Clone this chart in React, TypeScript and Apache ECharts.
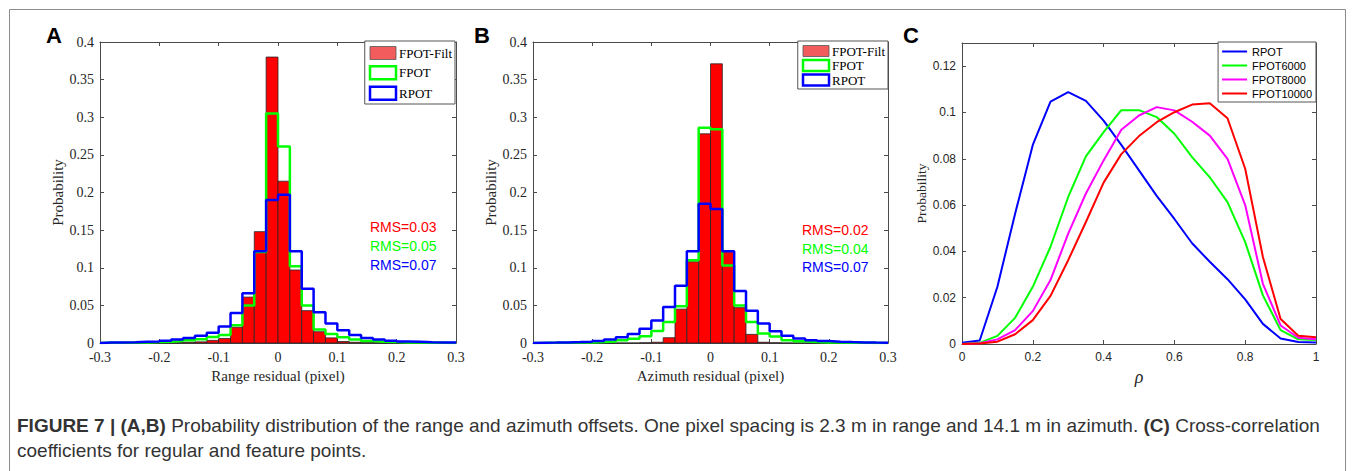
import React, { useEffect, useRef } from "react";
import * as echarts from "echarts";

// ---------- data ----------
const BIN_START = -0.3;
const BIN_WIDTH = 0.02;

// Panel A: range residual histograms (30 bins of 0.02 from -0.3 to 0.3)
const rangeFilt = [0, 0, 0, 0, 0, 0.0003, 0.0005, 0.001, 0.0015, 0.0035, 0.006, 0.021, 0.061, 0.148, 0.38, 0.215, 0.097, 0.043, 0.015, 0.0068, 0.002, 0.001, 0.0005, 0.0003, 0.0002, 0, 0, 0, 0, 0];
const rangeFpot = [0.0002, 0.0003, 0.0005, 0.0008, 0.0012, 0.0018, 0.0025, 0.0035, 0.005, 0.008, 0.0105, 0.0235, 0.05, 0.121, 0.305, 0.261, 0.102, 0.05, 0.018, 0.012, 0.0075, 0.0045, 0.0027, 0.0018, 0.0012, 0.0008, 0.0005, 0.0003, 0.0002, 0.0001];
const rangeRpot = [0.0005, 0.0007, 0.001, 0.0015, 0.002, 0.003, 0.0045, 0.0065, 0.0095, 0.0137, 0.022, 0.04, 0.066, 0.122, 0.19, 0.197, 0.122, 0.072, 0.041, 0.026, 0.017, 0.0105, 0.0068, 0.0045, 0.003, 0.002, 0.0015, 0.001, 0.0007, 0.0005];

// Panel B: azimuth residual histograms
const azFilt = [0, 0, 0, 0, 0, 0, 0, 0, 0, 0.0003, 0.001, 0.007, 0.045, 0.108, 0.278, 0.371, 0.122, 0.047, 0.0115, 0.001, 0.0003, 0, 0, 0, 0, 0, 0, 0, 0, 0];
const azFpot = [0.0001, 0.0002, 0.0003, 0.0005, 0.0008, 0.0013, 0.002, 0.0035, 0.0055, 0.009, 0.016, 0.028, 0.049, 0.11, 0.286, 0.284, 0.103, 0.05, 0.028, 0.0125, 0.0085, 0.0037, 0.0022, 0.0013, 0.0008, 0.0005, 0.0003, 0.0002, 0.0001, 0.0001];
const azRpot = [0.0003, 0.0005, 0.0008, 0.0012, 0.0018, 0.0028, 0.0045, 0.0075, 0.012, 0.019, 0.03, 0.048, 0.076, 0.122, 0.185, 0.178, 0.122, 0.069, 0.043, 0.026, 0.0155, 0.0095, 0.006, 0.0038, 0.0025, 0.0017, 0.0012, 0.0008, 0.0005, 0.0003];

// Panel C: cross-correlation coefficient distributions
const rho = [0, 0.05, 0.1, 0.15, 0.2, 0.25, 0.3, 0.35, 0.4, 0.45, 0.5, 0.55, 0.6, 0.65, 0.7, 0.75, 0.8, 0.85, 0.9, 0.95, 1];
const cRpot = [0.0005, 0.0015, 0.0247, 0.0563, 0.086, 0.1047, 0.1088, 0.105, 0.0965, 0.086, 0.075, 0.064, 0.054, 0.0435, 0.0355, 0.028, 0.0193, 0.0087, 0.0024, 0.0009, 0.0006];
const cF6000 = [0, 0.0005, 0.0035, 0.0113, 0.0247, 0.042, 0.0635, 0.081, 0.0915, 0.101, 0.101, 0.098, 0.0908, 0.0807, 0.072, 0.0613, 0.044, 0.021, 0.006, 0.002, 0.0017];
const cF8000 = [0, 0.0003, 0.002, 0.006, 0.0142, 0.0276, 0.0477, 0.065, 0.0793, 0.0925, 0.0987, 0.1023, 0.1009, 0.096, 0.09, 0.08, 0.06, 0.026, 0.008, 0.0027, 0.002];
const cF10000 = [0, 0.0002, 0.001, 0.0042, 0.0103, 0.0208, 0.0362, 0.0527, 0.0697, 0.082, 0.0898, 0.0958, 0.1001, 0.1034, 0.104, 0.0975, 0.0757, 0.0376, 0.0108, 0.0036, 0.0029];

const rmsA = ["RMS=0.03", "RMS=0.05", "RMS=0.07"];
const rmsB = ["RMS=0.02", "RMS=0.04", "RMS=0.07"];
const cYTicks = [0, 0.02, 0.04, 0.06, 0.08, 0.1, 0.12];

// ---------- helpers ----------
const RED = "#ff0000";
const GREEN = "#00ff00";
const BLUE = "#0000ff";
const MAGENTA = "#ff00ff";
const AX = "#4a4a4a";
const TXT = "#262626";
const SERIF = "'Liberation Serif', 'Times New Roman', serif";
const SANS = "'Liberation Sans', Arial, sans-serif";

const edge = (k: number) => Math.round((BIN_START + k * BIN_WIDTH) * 1000) / 1000;
const fmt = (v: number) => String(Math.round(v * 1000) / 1000);

function stairs(values: number[]) {
  const pts: number[][] = [[edge(0), 0]];
  values.forEach((v, i) => pts.push([edge(i), v]));
  pts.push([edge(values.length), values[values.length - 1]]);
  pts.push([edge(values.length), 0]);
  return pts;
}

function barData(values: number[]) {
  return values.map((v, i) => [edge(i), v]);
}

const renderBar = (params: any, api: any) => {
  const x0 = api.value(0);
  const v = api.value(1);
  const p0 = api.coord([x0, 0]);
  const p1 = api.coord([x0 + BIN_WIDTH, v]);
  return {
    type: "rect",
    shape: { x: p0[0], y: p1[1], width: p1[0] - p0[0], height: p0[1] - p1[1] },
    style: { fill: RED, stroke: "#262626", lineWidth: 0.8 },
  };
};

const xAxes: any[] = [];
const yAxes: any[] = [];

function addAxes(g: number, c: any) {
  const line = { show: true, onZero: false, lineStyle: { color: AX, width: 1 } };
  const tick = { show: true, inside: true, length: 4, lineStyle: { color: AX } };
  const cx = { gridIndex: g, type: "value", min: c.xmin, max: c.xmax, interval: c.xint, splitLine: { show: false }, axisLine: line, axisTick: tick };
  const cy = { gridIndex: g, type: "value", min: c.ymin, max: c.ymax, interval: c.yint, splitLine: { show: false }, axisLine: line, axisTick: tick };
  xAxes.push({
    ...cx,
    position: "bottom",
    axisLabel: { margin: 7, color: TXT, fontFamily: c.labelFont, fontSize: c.labelSize, formatter: fmt },
    name: c.xName,
    nameLocation: "middle",
    nameGap: c.xGap,
    nameTextStyle: c.xNameStyle,
  });
  xAxes.push({ ...cx, position: "top", axisLabel: { show: false } });
  yAxes.push({
    ...cy,
    position: "left",
    axisLabel: {
      margin: 6,
      color: TXT,
      fontFamily: c.labelFont,
      fontSize: c.labelSize,
      formatter: c.yFormatter || fmt,
    },
    name: c.yName,
    nameLocation: "middle",
    nameGap: c.yGap,
    nameTextStyle: c.yNameStyle,
  });
  yAxes.push({ ...cy, position: "right", axisLabel: { show: false } });
}

addAxes(0, {
  xmin: -0.3, xmax: 0.3, xint: 0.1, ymin: 0, ymax: 0.4, yint: 0.05,
  labelFont: SERIF, labelSize: 14,
  xName: "Range residual (pixel)", xGap: 20, xNameStyle: { fontFamily: SERIF, fontSize: 15, color: TXT },
  yName: "Probability", yGap: 29, yNameStyle: { fontFamily: SERIF, fontSize: 15, color: TXT },
});
addAxes(1, {
  xmin: -0.3, xmax: 0.3, xint: 0.1, ymin: 0, ymax: 0.4, yint: 0.05,
  labelFont: SERIF, labelSize: 14,
  xName: "Azimuth residual (pixel)", xGap: 20, xNameStyle: { fontFamily: SERIF, fontSize: 15, color: TXT },
  yName: "Probability", yGap: 31, yNameStyle: { fontFamily: SERIF, fontSize: 15, color: TXT },
});
addAxes(2, {
  xmin: 0, xmax: 1, xint: 0.2, ymin: 0, ymax: 0.13, yint: 0.02,
  labelFont: SANS, labelSize: 12,
  yFormatter: (v: number) => (cYTicks.some((t) => Math.abs(t - v) < 1e-6) ? fmt(v) : ""),
  xName: "ρ", xGap: 14, xNameStyle: { fontFamily: SERIF, fontSize: 18, fontStyle: "italic", color: TXT },
  yName: "Probability", yGap: 29, yNameStyle: { fontFamily: SERIF, fontSize: 13.5, color: TXT },
});

function histSeries(g: number, filt: number[], fpot: number[], rpot: number[]) {
  return [
    {
      name: "FPOT-Filt",
      type: "custom",
      xAxisIndex: 2 * g,
      yAxisIndex: 2 * g,
      renderItem: renderBar,
      encode: { x: 0, y: 1 },
      data: barData(filt),
      z: 2,
    },
    {
      name: "FPOT",
      type: "line",
      xAxisIndex: 2 * g,
      yAxisIndex: 2 * g,
      step: "end",
      symbol: "none",
      lineStyle: { color: GREEN, width: 2.5 },
      itemStyle: { color: GREEN },
      data: stairs(fpot),
      z: 3,
    },
    {
      name: "RPOT",
      type: "line",
      xAxisIndex: 2 * g,
      yAxisIndex: 2 * g,
      step: "end",
      symbol: "none",
      lineStyle: { color: BLUE, width: 2.5 },
      itemStyle: { color: BLUE },
      data: stairs(rpot),
      z: 4,
    },
  ];
}

function lineSeries(name: string, color: string, values: number[]) {
  return {
    name,
    type: "line",
    xAxisIndex: 4,
    yAxisIndex: 4,
    symbol: "none",
    lineStyle: { color, width: 2 },
    itemStyle: { color },
    data: rho.map((x, i) => [x, values[i]]),
    z: 3,
  };
}

function histLegend(right: number, top: number, itemHeight: number, itemGap: number, padding: number[]) {
  return {
    orient: "vertical",
    right,
    top,
    selectedMode: false,
    itemWidth: 26,
    itemHeight,
    itemGap,
    padding,
    borderColor: "#555",
    borderWidth: 1,
    backgroundColor: "#fff",
    textStyle: { fontFamily: SERIF, fontSize: 13, color: "#000", lineHeight: 14, padding: [0, 0, 0, -2] },
    data: [
      { name: "FPOT-Filt", icon: "rect", itemStyle: { color: "#f25c5c", borderColor: "#555", borderWidth: 0.8 } },
      { name: "FPOT", icon: "rect", itemStyle: { color: "#fff", borderColor: GREEN, borderWidth: 2.5 } },
      { name: "RPOT", icon: "rect", itemStyle: { color: "#fff", borderColor: BLUE, borderWidth: 2.5 } },
    ],
  };
}

function rmsTexts(x: number, ys: number[], labels: string[]) {
  const colors = [RED, GREEN, BLUE];
  return labels.map((t, i) => ({
    type: "text",
    x,
    y: ys[i],
    style: { text: t, fill: colors[i], font: `14px ${SANS}`, textVerticalAlign: "middle" },
  }));
}

function panelLabel(t: string, x: number) {
  return {
    type: "text",
    x,
    y: 35,
    style: { text: t, fill: "#000", font: `bold 22px ${SANS}`, textVerticalAlign: "middle" },
  };
}

export default function App() {
  const ref = useRef<HTMLDivElement>(null);
  useEffect(() => {
    if (!ref.current) return;
    const chart = echarts.init(ref.current, null, { renderer: "svg" });
    const option: any = {
      animation: false,
      backgroundColor: "#fff",
      grid: [
        { left: 100, top: 42, width: 356, height: 301 },
        { left: 533, top: 42, width: 355, height: 301 },
        { left: 962, top: 43, width: 354, height: 301 },
      ],
      xAxis: xAxes,
      yAxis: yAxes,
      legend: [
        histLegend(900, 41, 13, 5, [5, 3, 3, 4]),
        histLegend(467, 41, 11, 0.5, [3, 3, 2, 4]),
        {
          orient: "vertical",
          right: 39,
          top: 42,
          selectedMode: false,
          itemWidth: 25,
          itemHeight: 2,
          itemGap: 3,
          padding: [4, 4, 3, 4],
          borderColor: "#555",
          borderWidth: 1,
          backgroundColor: "#fff",
          textStyle: { fontFamily: SANS, fontSize: 11, color: "#000", lineHeight: 11 },
          data: [
            { name: "RPOT", icon: "rect", itemStyle: { color: BLUE, borderWidth: 0 } },
            { name: "FPOT6000", icon: "rect", itemStyle: { color: GREEN, borderWidth: 0 } },
            { name: "FPOT8000", icon: "rect", itemStyle: { color: MAGENTA, borderWidth: 0 } },
            { name: "FPOT10000", icon: "rect", itemStyle: { color: RED, borderWidth: 0 } },
          ],
        },
      ],
      series: [
        ...histSeries(0, rangeFilt, rangeFpot, rangeRpot),
        ...histSeries(1, azFilt, azFpot, azRpot),
        lineSeries("RPOT", BLUE, cRpot),
        lineSeries("FPOT6000", GREEN, cF6000),
        lineSeries("FPOT8000", MAGENTA, cF8000),
        lineSeries("FPOT10000", RED, cF10000),
      ],
      graphic: [
        {
          type: "rect",
          shape: { x: 9.5, y: 9.5, width: 1336, height: 480 },
          style: { fill: "none", stroke: "#8c8c8c", lineWidth: 1 },
          silent: true,
        },
        panelLabel("A", 46),
        panelLabel("B", 474),
        panelLabel("C", 903),
        ...rmsTexts(370, [227, 246, 265], rmsA),
        ...rmsTexts(802, [230, 249, 267], rmsB),
        {
          type: "text",
          x: 17,
          y: 425,
          style: {
            text: "{b|FIGURE 7 | (A,B)} Probability distribution of the range and azimuth offsets. One pixel spacing is 2.3 m in range and 14.1 m in azimuth. {b|(C)} Cross-correlation",
            fill: "#333",
            font: `19px ${SANS}`,
            textVerticalAlign: "middle",
            rich: { b: { fontWeight: "bold", fontFamily: SANS, fontSize: 19, fill: "#333" } },
          },
        },
        {
          type: "text",
          x: 17,
          y: 450,
          style: { text: "coefficients for regular and feature points.", fill: "#333", font: `19px ${SANS}`, textVerticalAlign: "middle" },
        },
      ],
    };
    chart.setOption(option);
    return () => chart.dispose();
  }, []);
  return (
    <div
      ref={ref}
      style={{ position: "fixed", left: 0, top: 0, width: 1355, height: 471, background: "#fff" }}
    />
  );
}
